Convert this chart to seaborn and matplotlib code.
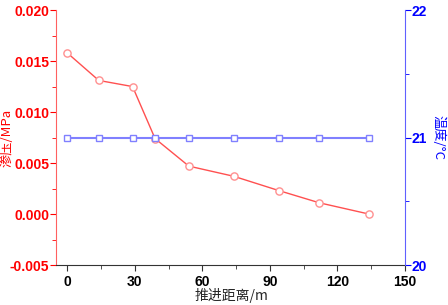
import matplotlib
matplotlib.use("Agg")
import matplotlib.pyplot as plt
import seaborn as sns
import pandas as pd
from matplotlib.ticker import MultipleLocator

distance = [0, 14, 29, 39, 54, 74, 94, 112, 134]
seepage = [0.0158, 0.0131, 0.0125, 0.0074, 0.0047, 0.0037, 0.0023, 0.0011, 0.0000]
temperature = [21, 21, 21, 21, 21, 21, 21, 21, 21]

df = pd.DataFrame({"d": distance, "p": seepage, "t": temperature})

sns.set_style("white")
plt.rcParams['font.family'] = ['Liberation Sans', 'Noto Sans CJK SC', 'DejaVu Sans']

fig = plt.figure(figsize=(4.48, 3.05), dpi=100)
ax = fig.add_axes([0.125, 0.131, 0.779, 0.836])
ax2 = ax.twinx()

red = "#ff0000"
blue = "#0000ff"

sns.lineplot(data=df, x="d", y="p", ax=ax, color="#ff5050", lw=1.0,
             marker="o", markersize=5.2, markerfacecolor="white",
             markeredgecolor="#ff9090", markeredgewidth=1.0)
sns.lineplot(data=df, x="d", y="t", ax=ax2, color="#8080ff", lw=1.5,
             marker="s", markersize=4.5, markerfacecolor="white",
             markeredgecolor="#8080ff", markeredgewidth=1.0)

ax.set_xlim(-5, 150)
ax.set_ylim(-0.005, 0.020)
ax2.set_ylim(20, 22)

ax.xaxis.set_major_locator(MultipleLocator(30))
ax.xaxis.set_minor_locator(MultipleLocator(15))
ax.yaxis.set_major_locator(MultipleLocator(0.005))
ax.yaxis.set_minor_locator(MultipleLocator(0.0025))
ax2.yaxis.set_major_locator(MultipleLocator(1))
ax2.yaxis.set_minor_locator(MultipleLocator(0.5))

ax.yaxis.set_major_formatter(matplotlib.ticker.FormatStrFormatter('%.3f'))

for a in (ax, ax2):
    a.spines['top'].set_visible(False)

ax.spines['left'].set_color("#ff6060")
ax.spines['right'].set_visible(False)
ax.spines['bottom'].set_color("#333333")
ax2.spines['left'].set_visible(False)
ax2.spines['bottom'].set_visible(False)
ax2.spines['right'].set_color("#6060ff")

ax.tick_params(axis='x', which='both', direction='out', bottom=True, colors="#333333",
               labelcolor='black', labelsize=10)
ax.tick_params(axis='x', which='major', length=4)
ax.tick_params(axis='x', which='minor', length=3)
ax.tick_params(axis='y', which='both', direction='out', left=True, colors=red,
               labelcolor=red, labelsize=10, pad=1)
ax.tick_params(axis='y', which='major', length=4)
ax.tick_params(axis='y', which='minor', length=3)
ax2.tick_params(axis='y', which='both', direction='out', right=True, colors=blue,
                labelcolor=blue, labelsize=10, pad=1)
ax2.tick_params(axis='y', which='major', length=4)
ax2.tick_params(axis='y', which='minor', length=3)

for lab in ax.get_xticklabels() + ax.get_yticklabels() + ax2.get_yticklabels():
    lab.set_fontweight('bold')

cjk = ['Noto Sans CJK SC', 'DejaVu Sans']
ax.set_xlabel("推进距离/m", fontsize=10, family=cjk, va='center')
ax.xaxis.set_label_coords(0.504, -0.12)
ax.set_ylabel("渗压/MPa", fontsize=9.5, color=red, family=cjk, va='center', ha='center')
ax.yaxis.set_label_coords(-0.14, 0.5)
ax2.set_ylabel("温度/°C", fontsize=9.5, color=blue, rotation=270, family=cjk, va='center', ha='center')
ax2.yaxis.set_label_coords(1.094, 0.5)

fig.savefig("out.png", dpi=100)
